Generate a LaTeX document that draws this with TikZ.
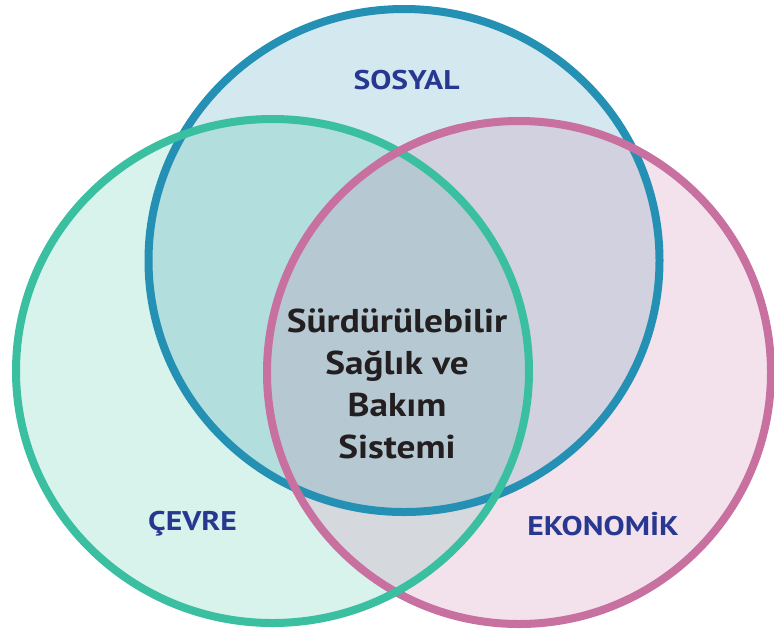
\documentclass[tikz,border=0pt]{standalone}
\usepackage{fontspec}
\setmainfont{PT Sans}
\newfontfamily\labelfont[FakeStretch=1.17]{PT Sans}
\newfontfamily\corefont[FakeStretch=1.13]{PT Sans}
\definecolor{sosyalLine}{HTML}{2490B4}
\definecolor{cevreLine}{HTML}{3BBFA1}
\definecolor{ekoLine}{HTML}{C870A0}
\definecolor{sosyalFill}{HTML}{D4E8EF}
\definecolor{cevreFill}{HTML}{D8F3EC}
\definecolor{ekoFill}{HTML}{F3E2EC}
\definecolor{scFill}{HTML}{B2DFDD}
\definecolor{seFill}{HTML}{D1D1DF}
\definecolor{ceFill}{HTML}{D5D9DE}
\definecolor{allFill}{HTML}{B6C9D3}
\definecolor{labelNavy}{HTML}{283891}
\definecolor{coreText}{HTML}{231F20}
\tikzset{
  ring/.style={line width=8pt},
  setlabel/.style={text=labelNavy, font=\labelfont\bfseries\fontsize{27}{30}\selectfont, inner sep=0pt},
  coretext/.style={text=coreText, font=\corefont\bfseries\fontsize{33}{42}\selectfont, align=center, inner sep=0pt}
}
% circle paths (centre line of each ring)
\def\sosyalPath{(404,260.5) ellipse [x radius=255.5, y radius=251.5]}
\def\cevrePath{(272.5,371) ellipse [x radius=256.5, y radius=252]}
\def\ekoPath{(519,372.5) ellipse [x radius=252, y radius=251.5]}
\begin{document}
\begin{tikzpicture}[x=1pt,y=-1pt]
\useasboundingbox (0,0) rectangle (774,633);
% single-set fills
\fill[sosyalFill] \sosyalPath;
\fill[cevreFill] \cevrePath;
\fill[ekoFill] \ekoPath;
% pairwise overlaps
\begin{scope}\clip \sosyalPath; \fill[scFill] \cevrePath; \end{scope}
\begin{scope}\clip \sosyalPath; \fill[seFill] \ekoPath; \end{scope}
\begin{scope}\clip \cevrePath; \fill[ceFill] \ekoPath; \end{scope}
% common core
\begin{scope}\clip \sosyalPath; \clip \cevrePath; \fill[allFill] \ekoPath; \end{scope}
% rings
\draw[ring, sosyalLine] \sosyalPath;
\draw[ring, ekoLine] \ekoPath;
\draw[ring, cevreLine] \cevrePath;
\begin{scope}\clip (340,95) rectangle (460,160); \draw[ring, ekoLine] \ekoPath; \end{scope}
% labels
\node[setlabel] (sosyal) at (406.5,80) {SOSYAL};
\node[setlabel] (cevre) at (192.5,524) {ÇEVRE};
\node[setlabel] (eko) at (603,524) {EKONOMİK};
\node[coretext] (core) at (397,384) {Sürdürülebilir\\Sağlık ve\\Bakım\\Sistemi};
\end{tikzpicture}
\end{document}
